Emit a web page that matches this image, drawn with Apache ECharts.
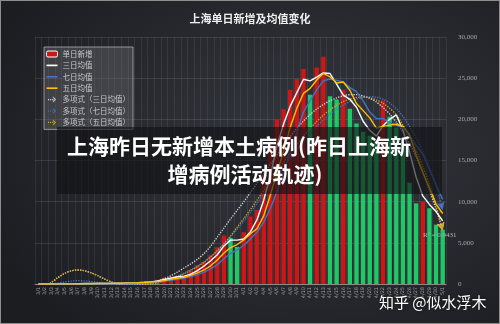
<!DOCTYPE html>
<html>
<head>
<meta charset="utf-8">
<script src="https://cdn.jsdelivr.net/npm/echarts@6/dist/echarts.min.js"></script>
<style>
  html, body { margin: 0; padding: 0; }
  #wrap {
    position: relative; width: 500px; height: 324px; overflow: hidden;
    background: radial-gradient(ellipse 70% 75% at 62% 45%, #34373e 0%, #2a2c32 45%, #1c1d21 100%);
  }
  #chart { position: absolute; left: 0; top: 0; width: 500px; height: 324px; }
  #frame { position: absolute; left: 0; top: 0; width: 500px; height: 324px; box-sizing: border-box; border: 1px solid #8e8e8e; pointer-events: none; }
</style>
</head>
<body>
<div id="wrap">
  <div id="chart"></div>
  <div id="frame"></div>
</div>
<script>
// 日期（3/1 - 5/1）
const dates = ['3/1','3/2','3/3','3/4','3/5','3/6','3/7','3/8','3/9','3/10','3/11','3/12','3/13','3/14','3/15','3/16',
  '3/17','3/18','3/19','3/20','3/21','3/22','3/23','3/24','3/25','3/26','3/27','3/28','3/29','3/30','3/31',
  '4/1','4/2','4/3','4/4','4/5','4/6','4/7','4/8','4/9','4/10','4/11','4/12','4/13','4/14','4/15','4/16',
  '4/17','4/18','4/19','4/20','4/21','4/22','4/23','4/24','4/25','4/26','4/27','4/28','4/29','4/30','5/1']

// 单日新增
const daily = [2, 8, 16, 19, 3, 48, 55, 65, 80, 75,
  83, 65, 169, 139, 202, 158, 260, 374, 509, 758,
  896, 981, 983, 1609, 2269, 2676, 3500, 4477, 5900, 5600,
  4500, 6300, 8200, 9000, 13350, 17080, 19980, 21220, 23600, 24900,
  26100, 23000, 26300, 27600, 22800, 22400, 23600, 21300, 19500, 18500,
  18000, 17400, 22300, 20300, 19000, 16800, 12300, 9800, 10000, 9200,
  7200, 6600]

// 三日 / 五日 / 七日均值
const avg3 = [2, 5, 9, 14, 13, 23, 35, 56, 67, 73,
  79, 74, 106, 124, 170, 166, 207, 264, 381, 547,
  721, 878, 953, 1191, 1620, 2185, 2815, 3551, 4626, 5326,
  5333, 5467, 6333, 7833, 10183, 13143, 16803, 19427, 21600, 23240,
  24867, 24667, 25133, 25633, 25567, 24267, 22933, 22433, 21467, 19767,
  18667, 17967, 19233, 20000, 20533, 18700, 16033, 12967, 10700, 9667,
  8800, 7667]
const avg5 = [2, 5, 9, 11, 10, 19, 28, 38, 50, 65,
  72, 74, 94, 106, 132, 147, 186, 227, 301, 412,
  559, 704, 825, 1045, 1348, 1704, 2207, 2906, 3764, 4431,
  4795, 5355, 6100, 6720, 8270, 10786, 13522, 16126, 19046, 21356,
  23160, 23764, 24780, 25580, 25160, 24420, 24540, 23540, 21920, 21060,
  20180, 18940, 19140, 19300, 19400, 19160, 18140, 15640, 13580, 11620,
  9700, 8560]
const avg7 = [2, 5, 9, 11, 10, 16, 22, 31, 41, 49,
  58, 67, 85, 97, 116, 127, 154, 195, 259, 343,
  451, 562, 680, 873, 1144, 1453, 1845, 2356, 3059, 3719,
  4132, 4708, 5497, 6282, 7550, 9147, 11201, 13590, 16061, 18447,
  20890, 22269, 23586, 24674, 24900, 24729, 24543, 23857, 23357, 22243,
  20871, 20100, 20086, 19614, 19286, 18900, 18014, 16843, 15786, 13914,
  12043, 10271]

// 多项式趋势线
const poly3 = [-1200, -400, 200, 800, 1300, 1600, 1700, 1600, 1350, 1000,
  600, 250, 0, -150, -150, -80, 0, 150, 350, 650,
  1000, 1450, 1950, 2450, 3000, 3700, 4600, 5700, 6800, 7900,
  8950, 10000, 11100, 12250, 13400, 14550, 15700, 16850, 17900, 18900,
  19800, 20600, 21250, 21800, 22250, 22600, 22850, 23000, 23000, 22850,
  22550, 22100, 21450, 20650, 19650, 18450, 17050, 15400, 13500, 11400,
  9100, 6500]
const poly5 = [-1200, -400, 200, 800, 1300, 1600, 1700, 1600, 1350, 1000,
  600, 250, 0, -200, -250, -200, -100, 0, 150, 350,
  600, 900, 1250, 1650, 2100, 2650, 3300, 4050, 4900, 5850,
  6900, 7950, 9050, 10200, 11350, 12500, 13650, 14800, 15900, 16950,
  17950, 18900, 19750, 20500, 21150, 21700, 22150, 22450, 22650, 22700,
  22600, 22350, 21950, 21350, 20550, 19300, 17900, 16200, 14300, 12100,
  9500, 6500]
const poly7 = [-800, -400, -100, 100, 250, 350, 400, 380, 300, 200,
  100, 0, -80, -120, -120, -80, 0, 100, 250, 450,
  700, 1000, 1350, 1750, 2200, 2700, 3300, 4000, 4800, 5700,
  6650, 7650, 8700, 9800, 10900, 12000, 13100, 14200, 15300, 16350,
  17350, 18300, 19150, 19950, 20650, 21250, 21750, 22150, 22450, 22650,
  22750, 22700, 22450, 22000, 21300, 20350, 19150, 17750, 16100, 14200,
  12000, 9000]

const RED = '#cf1616'
const GREEN = '#1fc766'
const WHITE = '#ffffff'
const BLUE = '#4472c4'
const GOLD = '#ffc000'

const font = '"Noto Sans CJK SC", "Noto Sans", sans-serif'
const lineIcon = 'path://M0,0h12v1.8h-12z'
const arrowIcon = 'path://M0,4h1.6v1.6h-1.6z M3,4h1.6v1.6h-1.6z M6,4h1.6v1.6h-1.6z M7,0.5 L11.5,4.8 L7,9.1 L7,7.3 L9.6,4.8 L7,2.3z'

// 最后一个点画成箭头
function withArrow(arr, color, rotate) {
  return arr.map((v, i) => i === arr.length - 1
    ? { value: v, symbol: 'arrow', symbolSize: [6, 8], symbolRotate: rotate, itemStyle: { color } }
    : v)
}

function trendSeries(name, arr, color, rotate) {
  return {
    name, type: 'line', data: withArrow(arr, color, rotate),
    smooth: 0.3, symbol: 'circle', symbolSize: 0, showSymbol: true, showAllSymbol: true,
    clip: true, silent: true, z: 3,
    lineStyle: { color, width: 1.3, type: 'dotted' },
    itemStyle: { color },
  }
}

const chart = echarts.init(document.getElementById('chart'), null, { renderer: 'canvas' })

chart.setOption({
  backgroundColor: 'transparent',
  animation: false,
  title: {
    text: '上海单日新增及均值变化', left: 'center', top: 13, padding: 0,
    textStyle: { color: '#eeeeee', fontSize: 11, fontWeight: 'bold', fontFamily: font },
  },
  legend: {
    left: 44, top: 47, orient: 'vertical',
    itemWidth: 11, itemHeight: 6, itemGap: 3.4,
    padding: [3, 3, 3, 2],
    backgroundColor: 'rgba(120,120,126,0.35)',
    borderColor: 'rgba(190,190,190,0.7)', borderWidth: 1,
    textStyle: { color: '#c8c8c8', fontSize: 7.5, fontFamily: font, lineHeight: 8 },
    data: [
      { name: '单日新增', icon: 'roundRect', itemStyle: { color: RED, borderColor: '#ffffff', borderWidth: 1 } },
      { name: '三日均值', icon: lineIcon, itemStyle: { color: WHITE } },
      { name: '七日均值', icon: lineIcon, itemStyle: { color: BLUE } },
      { name: '五日均值', icon: lineIcon, itemStyle: { color: GOLD } },
      { name: '多项式（三日均值）', icon: arrowIcon, itemStyle: { color: '#d8d8d8' } },
      { name: '多项式（七日均值）', icon: arrowIcon, itemStyle: { color: BLUE } },
      { name: '多项式（五日均值）', icon: arrowIcon, itemStyle: { color: '#d9a520' } },
    ],
  },
  grid: { left: 35, right: 54, top: 37, bottom: 40 },
  xAxis: {
    type: 'category', data: dates,
    axisLine: { lineStyle: { color: '#8a8a8a' } },
    axisTick: { show: false },
    axisLabel: { interval: 0, rotate: 90, fontSize: 5, color: '#9a9a9a', margin: 3, fontFamily: 'DejaVu Sans' },
    splitLine: { show: true, interval: 0, lineStyle: { color: 'rgba(255,255,255,0.07)' } },
  },
  yAxis: {
    type: 'value', position: 'right', min: 0, max: 30000, interval: 5000,
    axisLine: { show: false }, axisTick: { show: false },
    axisLabel: { color: '#a8a8a8', fontSize: 7, fontFamily: 'Liberation Serif', margin: 12 },
    splitLine: { lineStyle: { color: 'rgba(255,255,255,0.1)' } },
  },
  series: [
    {
      name: '单日新增', type: 'bar', data: daily, barWidth: '66%', z: 2,
      itemStyle: { color: (p) => (p.dataIndex > 0 && p.value < daily[p.dataIndex - 1]) ? GREEN : RED },
    },
    trendSeries('多项式（三日均值）', poly3, '#d8d8d8', -163),
    trendSeries('多项式（七日均值）', poly7, BLUE, -165),
    trendSeries('多项式（五日均值）', poly5, '#d9a520', -165),
    { name: '三日均值', type: 'line', data: avg3, symbol: 'none', z: 4, lineStyle: { color: WHITE, width: 1.4 }, itemStyle: { color: WHITE } },
    { name: '七日均值', type: 'line', data: avg7, symbol: 'none', z: 4, lineStyle: { color: BLUE, width: 1.4 }, itemStyle: { color: BLUE } },
    { name: '五日均值', type: 'line', data: avg5, symbol: 'none', z: 4, lineStyle: { color: GOLD, width: 1.4 }, itemStyle: { color: GOLD } },
  ],
  graphic: [
    {
      type: 'text', x: 423, y: 235, z: 50,
      style: { text: 'R² = 0.9431', fill: '#b4b4b4', fontSize: 7, fontFamily: 'Liberation Serif', verticalAlign: 'middle' },
    },
    {
      type: 'rect', z: 100, shape: { x: 57, y: 127, width: 385, height: 67 },
      style: { fill: 'rgba(16,16,20,0.62)' },
    },
    {
      type: 'text', x: 239, y: 146, z: 101,
      style: { text: '上海昨日无新增本土病例(昨日上海新', fill: '#ffffff', fontSize: 21, fontWeight: 'bold', fontFamily: font, align: 'center', verticalAlign: 'middle' },
    },
    {
      type: 'text', x: 245, y: 174, z: 101,
      style: { text: '增病例活动轨迹)', fill: '#ffffff', fontSize: 21, fontWeight: 'bold', fontFamily: font, align: 'center', verticalAlign: 'middle' },
    },
    {
      type: 'text', x: 379, y: 302, z: 101,
      style: {
        text: '知乎 @似水浮木', fill: '#ffffff', fontSize: 15, fontFamily: font, verticalAlign: 'middle',
        textShadowColor: 'rgba(0,0,0,0.6)', textShadowBlur: 3,
      },
    },
  ],
})

window.addEventListener('resize', () => chart.resize())
</script>
</body>
</html>
